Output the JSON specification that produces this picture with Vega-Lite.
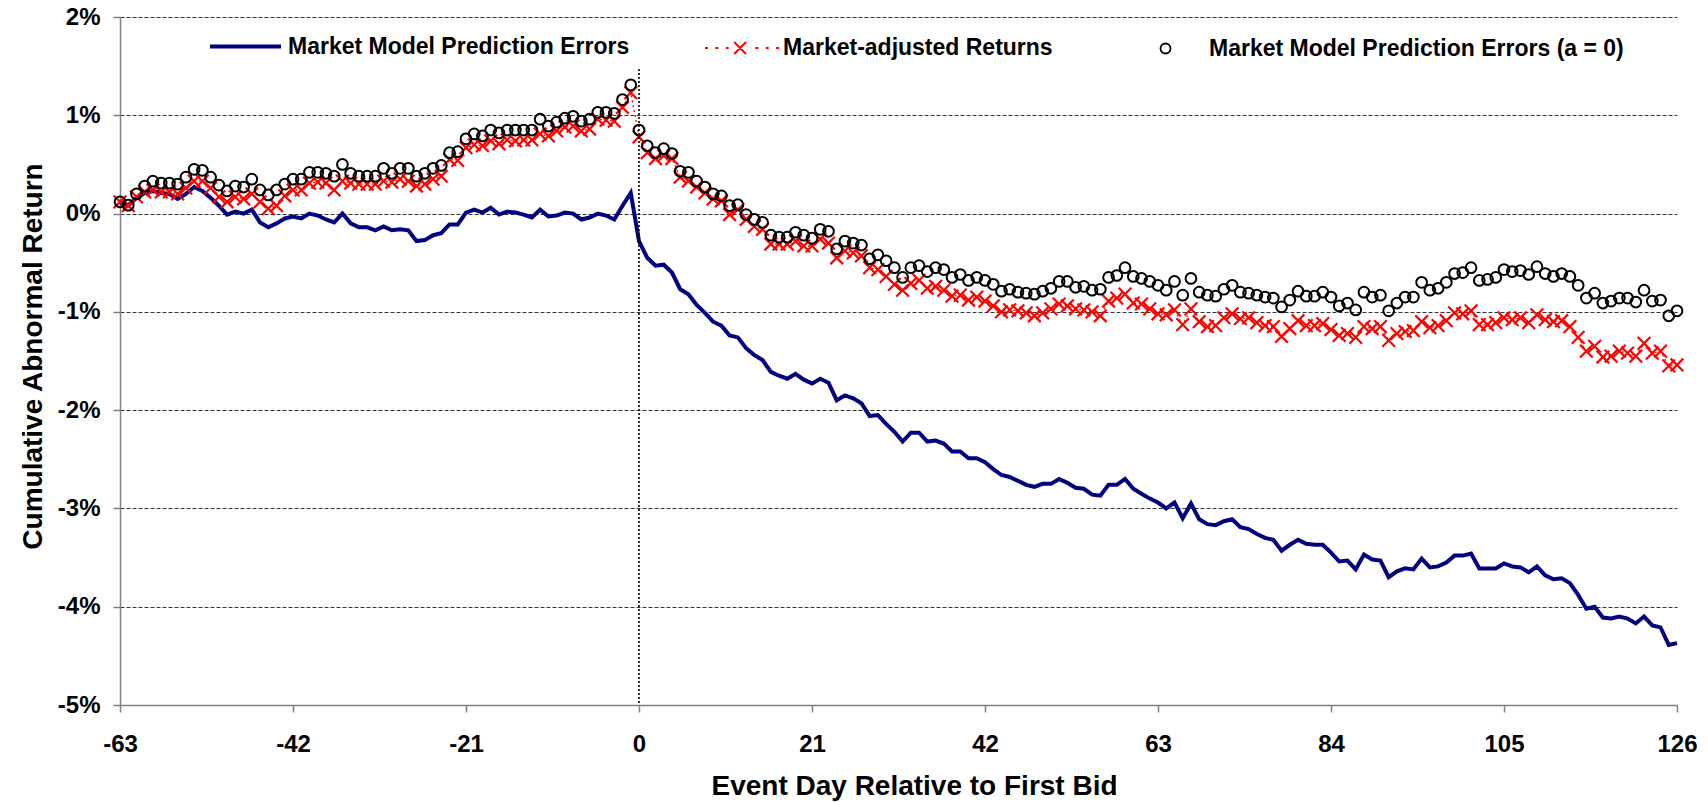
{
"$schema":"https://vega.github.io/schema/vega-lite/v6.json",
"width":1557,"height":688,"autosize":"none",
"padding":{"left":120,"top":17,"right":31,"bottom":97},
"background":"white",
"config":{"font":"Liberation Sans","view":{"stroke":null},
 "legend":{"padding":0,"orient":"none","direction":"horizontal","labelFont":"Liberation Sans","labelFontWeight":"bold","labelFontSize":23,"labelColor":"black","labelLimit":0,"title":null},
 "axisY":{"grid":true,"gridColor":"#333333","gridDash":[4,2],"gridWidth":1,
    "labelFont":"Liberation Sans","labelFontSize":24,"labelFontWeight":"bold","labelColor":"black","labelPadding":13,
    "tickSize":7,"tickColor":"#808080","tickWidth":1.5,"domainColor":"#808080","domainWidth":1.5,
    "titleFont":"Liberation Sans","titleFontSize":28,"titleFontWeight":"bold","titleColor":"black","titleX":-87,"titleY":339,"titleAngle":270,"titleBaseline":"middle","titleAlign":"center","titleAnchor":null}},
"data":{"values":[
{"d":-63,"mm":0.11,"ma":0.12,"a0":0.12},{"d":-62,"mm":0.085,"ma":0.08,"a0":0.085},{"d":-61,"mm":0.16,"ma":0.17,"a0":0.20},{"d":-60,"mm":0.21,"ma":0.22,"a0":0.28},{"d":-59,"mm":0.23,"ma":0.24,"a0":0.33},{"d":-58,"mm":0.21,"ma":0.22,"a0":0.31},{"d":-57,"mm":0.20,"ma":0.22,"a0":0.31},{"d":-56,"mm":0.15,"ma":0.20,"a0":0.30},{"d":-55,"mm":0.20,"ma":0.26,"a0":0.37},{"d":-54,"mm":0.27,"ma":0.33,"a0":0.45},
{"d":-53,"mm":0.23,"ma":0.33,"a0":0.44},{"d":-52,"mm":0.16,"ma":0.26,"a0":0.37},{"d":-51,"mm":0.08,"ma":0.17,"a0":0.29},{"d":-50,"mm":-0.01,"ma":0.12,"a0":0.23},{"d":-49,"mm":0.02,"ma":0.17,"a0":0.28},{"d":-48,"mm":0.0,"ma":0.15,"a0":0.27},{"d":-47,"mm":0.04,"ma":0.20,"a0":0.35},{"d":-46,"mm":-0.09,"ma":0.12,"a0":0.24},{"d":-45,"mm":-0.14,"ma":0.05,"a0":0.19},{"d":-44,"mm":-0.10,"ma":0.08,"a0":0.24},
{"d":-43,"mm":-0.05,"ma":0.18,"a0":0.30},{"d":-42,"mm":-0.03,"ma":0.24,"a0":0.35},{"d":-41,"mm":-0.05,"ma":0.24,"a0":0.35},{"d":-40,"mm":0.0,"ma":0.31,"a0":0.42},{"d":-39,"mm":-0.02,"ma":0.32,"a0":0.42},{"d":-38,"mm":-0.06,"ma":0.31,"a0":0.41},{"d":-37,"mm":-0.09,"ma":0.24,"a0":0.38},{"d":-36,"mm":0.0,"ma":0.33,"a0":0.50},{"d":-35,"mm":-0.10,"ma":0.31,"a0":0.41},{"d":-34,"mm":-0.14,"ma":0.30,"a0":0.38},
{"d":-33,"mm":-0.14,"ma":0.30,"a0":0.38},{"d":-32,"mm":-0.17,"ma":0.30,"a0":0.38},{"d":-31,"mm":-0.13,"ma":0.33,"a0":0.46},{"d":-30,"mm":-0.17,"ma":0.32,"a0":0.41},{"d":-29,"mm":-0.16,"ma":0.35,"a0":0.46},{"d":-28,"mm":-0.17,"ma":0.33,"a0":0.46},{"d":-27,"mm":-0.28,"ma":0.28,"a0":0.38},{"d":-26,"mm":-0.27,"ma":0.30,"a0":0.41},{"d":-25,"mm":-0.22,"ma":0.35,"a0":0.46},{"d":-24,"mm":-0.20,"ma":0.38,"a0":0.49},
{"d":-23,"mm":-0.11,"ma":0.55,"a0":0.62},{"d":-22,"mm":-0.11,"ma":0.54,"a0":0.63},{"d":-21,"mm":0.01,"ma":0.67,"a0":0.76},{"d":-20,"mm":0.04,"ma":0.70,"a0":0.81},{"d":-19,"mm":0.01,"ma":0.69,"a0":0.79},{"d":-18,"mm":0.06,"ma":0.74,"a0":0.85},{"d":-17,"mm":-0.01,"ma":0.71,"a0":0.82},{"d":-16,"mm":0.02,"ma":0.75,"a0":0.85},{"d":-15,"mm":0.01,"ma":0.74,"a0":0.85},{"d":-14,"mm":-0.01,"ma":0.75,"a0":0.85},
{"d":-13,"mm":-0.04,"ma":0.75,"a0":0.85},{"d":-12,"mm":0.04,"ma":0.81,"a0":0.96},{"d":-11,"mm":-0.03,"ma":0.79,"a0":0.89},{"d":-10,"mm":-0.02,"ma":0.84,"a0":0.93},{"d":-9,"mm":0.01,"ma":0.88,"a0":0.97},{"d":-8,"mm":0.0,"ma":0.89,"a0":0.99},{"d":-7,"mm":-0.06,"ma":0.84,"a0":0.94},{"d":-6,"mm":-0.04,"ma":0.86,"a0":0.96},{"d":-5,"mm":0.0,"ma":0.96,"a0":1.03},{"d":-4,"mm":-0.02,"ma":0.95,"a0":1.03},
{"d":-3,"mm":-0.06,"ma":0.94,"a0":1.02},{"d":-2,"mm":0.08,"ma":1.08,"a0":1.16},{"d":-1,"mm":0.21,"ma":1.23,"a0":1.31},
{"d":0,"mm":-0.28,"ma":0.78,"a0":0.85},{"d":1,"mm":-0.45,"ma":0.62,"a0":0.69},{"d":2,"mm":-0.53,"ma":0.56,"a0":0.62},{"d":3,"mm":-0.52,"ma":0.59,"a0":0.66},{"d":4,"mm":-0.60,"ma":0.56,"a0":0.61},{"d":5,"mm":-0.77,"ma":0.37,"a0":0.43},{"d":6,"mm":-0.82,"ma":0.33,"a0":0.42},{"d":7,"mm":-0.93,"ma":0.27,"a0":0.33},{"d":8,"mm":-1.01,"ma":0.21,"a0":0.27},{"d":9,"mm":-1.10,"ma":0.15,"a0":0.20},
{"d":10,"mm":-1.14,"ma":0.13,"a0":0.18},{"d":11,"mm":-1.24,"ma":-0.01,"a0":0.08},{"d":12,"mm":-1.26,"ma":0.04,"a0":0.09},{"d":13,"mm":-1.37,"ma":-0.06,"a0":-0.01},{"d":14,"mm":-1.44,"ma":-0.13,"a0":-0.06},{"d":15,"mm":-1.49,"ma":-0.16,"a0":-0.09},{"d":16,"mm":-1.61,"ma":-0.31,"a0":-0.22},{"d":17,"mm":-1.65,"ma":-0.31,"a0":-0.24},{"d":18,"mm":-1.68,"ma":-0.31,"a0":-0.24},{"d":19,"mm":-1.63,"ma":-0.28,"a0":-0.19},
{"d":20,"mm":-1.69,"ma":-0.33,"a0":-0.22},{"d":21,"mm":-1.73,"ma":-0.33,"a0":-0.25},{"d":22,"mm":-1.68,"ma":-0.26,"a0":-0.16},{"d":23,"mm":-1.72,"ma":-0.30,"a0":-0.18},{"d":24,"mm":-1.90,"ma":-0.45,"a0":-0.36},{"d":25,"mm":-1.85,"ma":-0.38,"a0":-0.28},{"d":26,"mm":-1.88,"ma":-0.40,"a0":-0.30},{"d":27,"mm":-1.93,"ma":-0.43,"a0":-0.32},{"d":28,"mm":-2.06,"ma":-0.55,"a0":-0.46},{"d":29,"mm":-2.05,"ma":-0.57,"a0":-0.42},
{"d":30,"mm":-2.14,"ma":-0.64,"a0":-0.48},{"d":31,"mm":-2.22,"ma":-0.72,"a0":-0.55},{"d":32,"mm":-2.32,"ma":-0.78,"a0":-0.65},{"d":33,"mm":-2.23,"ma":-0.71,"a0":-0.55},{"d":34,"mm":-2.23,"ma":-0.68,"a0":-0.53},{"d":35,"mm":-2.32,"ma":-0.76,"a0":-0.59},{"d":36,"mm":-2.31,"ma":-0.74,"a0":-0.55},{"d":37,"mm":-2.34,"ma":-0.78,"a0":-0.57},{"d":38,"mm":-2.42,"ma":-0.84,"a0":-0.65},{"d":39,"mm":-2.42,"ma":-0.83,"a0":-0.62},
{"d":40,"mm":-2.49,"ma":-0.88,"a0":-0.68},{"d":41,"mm":-2.49,"ma":-0.85,"a0":-0.65},{"d":42,"mm":-2.53,"ma":-0.89,"a0":-0.68},{"d":43,"mm":-2.60,"ma":-0.94,"a0":-0.72},{"d":44,"mm":-2.66,"ma":-1.00,"a0":-0.79},{"d":45,"mm":-2.68,"ma":-0.98,"a0":-0.77},{"d":46,"mm":-2.72,"ma":-0.99,"a0":-0.80},{"d":47,"mm":-2.76,"ma":-1.01,"a0":-0.81},{"d":48,"mm":-2.78,"ma":-1.04,"a0":-0.82},{"d":49,"mm":-2.75,"ma":-1.01,"a0":-0.79},
{"d":50,"mm":-2.75,"ma":-0.97,"a0":-0.76},{"d":51,"mm":-2.70,"ma":-0.92,"a0":-0.69},{"d":52,"mm":-2.74,"ma":-0.94,"a0":-0.69},{"d":53,"mm":-2.79,"ma":-0.97,"a0":-0.75},{"d":54,"mm":-2.80,"ma":-0.98,"a0":-0.74},{"d":55,"mm":-2.86,"ma":-1.00,"a0":-0.78},{"d":56,"mm":-2.87,"ma":-1.04,"a0":-0.77},{"d":57,"mm":-2.76,"ma":-0.89,"a0":-0.65},{"d":58,"mm":-2.76,"ma":-0.86,"a0":-0.63},{"d":59,"mm":-2.70,"ma":-0.82,"a0":-0.55},
{"d":60,"mm":-2.80,"ma":-0.91,"a0":-0.64},{"d":61,"mm":-2.85,"ma":-0.92,"a0":-0.66},{"d":62,"mm":-2.90,"ma":-0.97,"a0":-0.69},{"d":63,"mm":-2.94,"ma":-1.02,"a0":-0.73},{"d":64,"mm":-3.00,"ma":-1.03,"a0":-0.78},{"d":65,"mm":-2.94,"ma":-0.98,"a0":-0.69},{"d":66,"mm":-3.10,"ma":-1.13,"a0":-0.83},{"d":67,"mm":-2.95,"ma":-0.97,"a0":-0.66},{"d":68,"mm":-3.11,"ma":-1.10,"a0":-0.80},{"d":69,"mm":-3.16,"ma":-1.15,"a0":-0.83},
{"d":70,"mm":-3.17,"ma":-1.14,"a0":-0.84},{"d":71,"mm":-3.13,"ma":-1.06,"a0":-0.77},{"d":72,"mm":-3.11,"ma":-1.02,"a0":-0.73},{"d":73,"mm":-3.19,"ma":-1.07,"a0":-0.80},{"d":74,"mm":-3.21,"ma":-1.06,"a0":-0.81},{"d":75,"mm":-3.26,"ma":-1.11,"a0":-0.83},{"d":76,"mm":-3.30,"ma":-1.14,"a0":-0.85},{"d":77,"mm":-3.32,"ma":-1.15,"a0":-0.86},{"d":78,"mm":-3.43,"ma":-1.25,"a0":-0.95},{"d":79,"mm":-3.37,"ma":-1.17,"a0":-0.88},
{"d":80,"mm":-3.32,"ma":-1.09,"a0":-0.79},{"d":81,"mm":-3.36,"ma":-1.14,"a0":-0.84},{"d":82,"mm":-3.37,"ma":-1.14,"a0":-0.84},{"d":83,"mm":-3.37,"ma":-1.12,"a0":-0.80},{"d":84,"mm":-3.45,"ma":-1.18,"a0":-0.85},{"d":85,"mm":-3.54,"ma":-1.24,"a0":-0.94},{"d":86,"mm":-3.53,"ma":-1.22,"a0":-0.91},{"d":87,"mm":-3.62,"ma":-1.26,"a0":-0.98},{"d":88,"mm":-3.47,"ma":-1.15,"a0":-0.80},{"d":89,"mm":-3.52,"ma":-1.17,"a0":-0.85},
{"d":90,"mm":-3.53,"ma":-1.15,"a0":-0.83},{"d":91,"mm":-3.70,"ma":-1.29,"a0":-0.99},{"d":92,"mm":-3.64,"ma":-1.22,"a0":-0.91},{"d":93,"mm":-3.61,"ma":-1.20,"a0":-0.85},{"d":94,"mm":-3.62,"ma":-1.19,"a0":-0.85},{"d":95,"mm":-3.51,"ma":-1.10,"a0":-0.70},{"d":96,"mm":-3.60,"ma":-1.16,"a0":-0.78},{"d":97,"mm":-3.59,"ma":-1.14,"a0":-0.76},{"d":98,"mm":-3.55,"ma":-1.09,"a0":-0.70},{"d":99,"mm":-3.48,"ma":-1.01,"a0":-0.61},
{"d":100,"mm":-3.48,"ma":-1.02,"a0":-0.60},{"d":101,"mm":-3.46,"ma":-0.99,"a0":-0.55},{"d":102,"mm":-3.61,"ma":-1.13,"a0":-0.68},{"d":103,"mm":-3.61,"ma":-1.13,"a0":-0.67},{"d":104,"mm":-3.61,"ma":-1.11,"a0":-0.65},{"d":105,"mm":-3.56,"ma":-1.06,"a0":-0.57},{"d":106,"mm":-3.59,"ma":-1.08,"a0":-0.59},{"d":107,"mm":-3.60,"ma":-1.06,"a0":-0.58},{"d":108,"mm":-3.65,"ma":-1.11,"a0":-0.62},{"d":109,"mm":-3.59,"ma":-1.03,"a0":-0.54},
{"d":110,"mm":-3.68,"ma":-1.08,"a0":-0.61},{"d":111,"mm":-3.72,"ma":-1.10,"a0":-0.64},{"d":112,"mm":-3.71,"ma":-1.09,"a0":-0.61},{"d":113,"mm":-3.76,"ma":-1.15,"a0":-0.64},{"d":114,"mm":-3.88,"ma":-1.26,"a0":-0.73},{"d":115,"mm":-4.02,"ma":-1.40,"a0":-0.86},{"d":116,"mm":-4.00,"ma":-1.35,"a0":-0.81},{"d":117,"mm":-4.11,"ma":-1.46,"a0":-0.91},{"d":118,"mm":-4.12,"ma":-1.45,"a0":-0.89},{"d":119,"mm":-4.10,"ma":-1.40,"a0":-0.86},
{"d":120,"mm":-4.12,"ma":-1.42,"a0":-0.86},{"d":121,"mm":-4.17,"ma":-1.45,"a0":-0.90},{"d":122,"mm":-4.10,"ma":-1.32,"a0":-0.78},{"d":123,"mm":-4.19,"ma":-1.42,"a0":-0.89},{"d":124,"mm":-4.21,"ma":-1.40,"a0":-0.88},{"d":125,"mm":-4.39,"ma":-1.55,"a0":-1.04},{"d":126,"mm":-4.37,"ma":-1.54,"a0":-0.99}
]},
"encoding":{"x":{"field":"d","type":"quantitative","scale":{"domain":[-63,126],"nice":false,"zero":false},
 "axis":{"values":[-63,-42,-21,0,21,42,63,84,105,126],"labelExpr":"(datum.value < 0 ? '-' : '') + abs(datum.value)","title":"Event Day Relative to First Bid","grid":false,
  "labelFont":"Liberation Sans","labelFontSize":24,"labelFontWeight":"bold","labelColor":"black","labelPadding":20,"labelFlush":false,
  "tickSize":7,"tickColor":"#808080","tickWidth":1.5,"domainColor":"#808080","domainWidth":1.5,
  "titleFont":"Liberation Sans","titleFontSize":28,"titleFontWeight":"bold","titleColor":"black","titleX":794,"titleY":89,"titleBaseline":"alphabetic","titleAlign":"center","titleAnchor":null}}},
"layer":[
{"mark":{"type":"line","strokeWidth":4},
 "encoding":{"y":{"field":"mm","type":"quantitative","scale":{"domain":[-5,2],"nice":false,"zero":false},
   "axis":{"values":[-5,-4,-3,-2,-1,0,1,2],"labelExpr":"(datum.value < 0 ? '-' : '') + abs(datum.value) + '%'","title":"Cumulative Abnormal Return"}},
  "color":{"datum":"Market Model Prediction Errors","scale":{"range":["#000080"]},
   "legend":{"symbolType":"stroke","symbolSize":5041,"symbolStrokeWidth":4,"labelOffset":5,"legendX":88,"legendY":-8}}}},
{"mark":{"type":"line","strokeWidth":1.3,"strokeDash":[2,3]},
 "encoding":{"y":{"field":"ma","type":"quantitative","scale":{"domain":[-5,2],"nice":false,"zero":false},
   "axis":{"values":[-5,-4,-3,-2,-1,0,1,2],"labelExpr":"(datum.value < 0 ? '-' : '') + abs(datum.value) + '%'","title":"Cumulative Abnormal Return"}},
  "color":{"datum":"Market-adjusted Returns","scale":{"range":["#ff0000"]},"legend":null}}},
{"mark":{"type":"point","shape":"M-1,-1L1,1M1,-1L-1,1","filled":false,"size":160,"strokeWidth":2.2,"opacity":1},
 "encoding":{"y":{"field":"ma","type":"quantitative","scale":{"domain":[-5,2],"nice":false,"zero":false},
   "axis":{"values":[-5,-4,-3,-2,-1,0,1,2],"labelExpr":"(datum.value < 0 ? '-' : '') + abs(datum.value) + '%'","title":"Cumulative Abnormal Return"}},
  "color":{"datum":"Market-adjusted Returns","scale":{"range":["#ff0000"]},
   "legend":{"symbolType":"M-1,0L-0.92,0M-0.72,0L-0.64,0M-0.44,0L-0.36,0M-0.21,-0.16L0.11,0.16M0.11,-0.16L-0.21,0.16M0.36,0L0.44,0M0.64,0L0.72,0M0.92,0L1,0","symbolSize":5476,"symbolStrokeWidth":2,"symbolFillColor":"transparent","labelOffset":3,"legendX":584,"legendY":-7}}}},
{"mark":{"type":"point","shape":"circle","filled":false,"size":115,"strokeWidth":2,"opacity":1},
 "encoding":{"y":{"field":"a0","type":"quantitative","scale":{"domain":[-5,2],"nice":false,"zero":false},
   "axis":{"values":[-5,-4,-3,-2,-1,0,1,2],"labelExpr":"(datum.value < 0 ? '-' : '') + abs(datum.value) + '%'","title":"Cumulative Abnormal Return"}},
  "color":{"datum":"Market Model Prediction Errors (a = 0)","scale":{"range":["#000000"]},
   "legend":{"symbolType":"circle","symbolSize":100,"symbolStrokeWidth":1.8,"symbolFillColor":"transparent","labelOffset":32,"legendX":1034,"legendY":20}}}},
{"data":{"values":[{"d":0}]},
 "mark":{"type":"rule","color":"black","strokeWidth":1.6,"strokeDash":[2,2]},
 "encoding":{"x":{"field":"d","type":"quantitative"},"y":{"datum":1.47},"y2":{"datum":-5}}}
],
"resolve":{"scale":{"color":"independent"}}
}
